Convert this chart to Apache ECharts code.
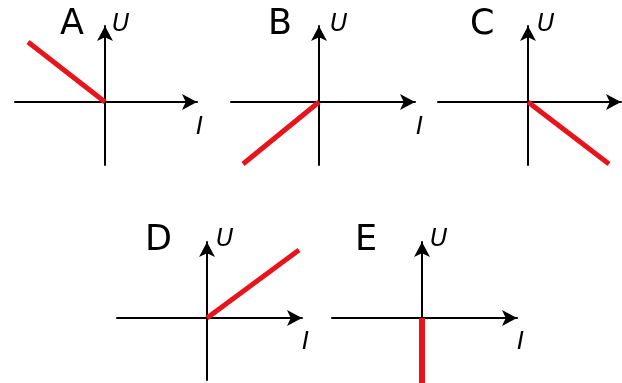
<!DOCTYPE html>
<html><head><meta charset="utf-8">
<script src="https://cdn.jsdelivr.net/npm/echarts@6/dist/echarts.min.js"></script>
<style>html,body{margin:0;padding:0;background:#fff}#c{width:622px;height:383px}</style>
</head><body><div id="c"></div>
<script>
// Panel letters
var panels = ['A', 'B', 'C', 'D', 'E'];
// Axis titles
var xNames = ['I', 'I', '', 'I', 'I'];
var yNames = ['U', 'U', 'U', 'U', 'U'];
// Axis ranges (arbitrary units) for each panel
var xMin = [-90, -88, -90, -90, -90];
var xMax = [92, 96, 93, 95, 95];
var yMin = [-63, -63, -63, -62, -65];
var yMax = [76, 76, 76, 76, 76];
// U-I characteristic segments
var lineA = [[-77, 60], [0, 0]];
var lineB = [[-76, -62], [0, 0]];
var lineC = [[0, 0], [81, -62]];
var lineD = [[0, 0], [92, 68]];
var lineE = [[0, 0], [0, -65]];
var lines = [lineA, lineB, lineC, lineD, lineE];

// layout: origin pixel of each panel, label positions
var origins = [[105, 102], [319, 102], [528, 102], [207, 318], [422, 318]];
var titlePos = [[60, 7], [268, 7], [470, 7], [145, 223], [355, 223]];
var uPos = [[112, 13], [330, 13], [537, 13], [216, 228], [430, 228]];
var iPos = [[196, 116], [416, 116], [0, 0], [302, 331], [517, 331]];

var FONT = 'DejaVu Sans';
var grids = [], xAxes = [], yAxes = [], series = [], titles = [];
var lblStyle = {fontFamily: FONT, fontStyle: 'italic', fontSize: 24, fontWeight: 'normal', color: '#000'};
for (var i = 0; i < 5; i++) {
  var o = origins[i];
  grids.push({left: o[0] + xMin[i], top: o[1] - yMax[i], width: xMax[i] - xMin[i], height: yMax[i] - yMin[i], containLabel: false});
  var axisLine = {show: true, onZero: true, symbol: ['none', 'arrow'], symbolSize: [12, 15],
    lineStyle: {color: '#000', width: 2}};
  xAxes.push({type: 'value', gridIndex: i, min: xMin[i], max: xMax[i], axisLine: axisLine,
    axisTick: {show: false}, axisLabel: {show: false}, splitLine: {show: false}});
  yAxes.push({type: 'value', gridIndex: i, min: yMin[i], max: yMax[i], axisLine: axisLine,
    axisTick: {show: false}, axisLabel: {show: false}, splitLine: {show: false}});
  series.push({type: 'line', xAxisIndex: i, yAxisIndex: i, data: lines[i], showSymbol: false, symbol: 'none',
    lineStyle: {color: '#e8141b', width: i === 4 ? 6 : 5, cap: 'butt'}, z: 5, animation: false});
  titles.push({text: panels[i], left: titlePos[i][0], top: titlePos[i][1], padding: 0,
    textStyle: {fontFamily: FONT, fontSize: 35, fontWeight: 'normal', color: '#000'}});
  titles.push({text: yNames[i], left: uPos[i][0], top: uPos[i][1], padding: 0, textStyle: lblStyle});
  if (xNames[i]) titles.push({text: xNames[i], left: iPos[i][0], top: iPos[i][1], padding: 0, textStyle: lblStyle});
}

var chart = echarts.init(document.getElementById('c'), null, {renderer: 'canvas'});
chart.setOption({animation: false, backgroundColor: '#fff', title: titles, grid: grids, xAxis: xAxes, yAxis: yAxes, series: series});
</script></body></html>
